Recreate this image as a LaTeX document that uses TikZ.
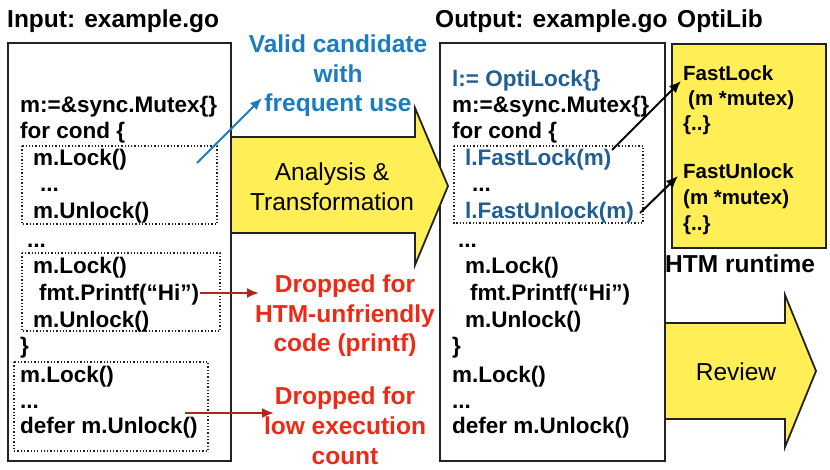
\documentclass[tikz,border=0pt]{standalone}
\usepackage{fontspec}
\setmainfont{Liberation Sans}
\usetikzlibrary{arrows.meta}
\definecolor{hlyellow}{HTML}{FFEE55}
\definecolor{lblblue}{HTML}{1B7CC0}
\definecolor{codeblue}{HTML}{1F5F96}
\definecolor{lblred}{HTML}{EE2A16}
\definecolor{arrred}{HTML}{B0281A}
\definecolor{edge}{HTML}{222222}
\tikzset{
  codebox/.style={draw=edge, line width=1.8pt},
  dotbox/.style={draw=edge, line width=1.3pt, dotted},
  code/.style={anchor=base west, inner sep=0pt, font=\fontsize{22.5}{26}\selectfont\bfseries},
  libtext/.style={anchor=base west, inner sep=0pt, font=\fontsize{20.5}{25}\selectfont\bfseries},
  title/.style={anchor=base west, inner sep=0pt, font=\fontsize{24.5}{28}\selectfont\bfseries},
  redlbl/.style={anchor=base, inner sep=0pt, text=lblred, font=\fontsize{24.5}{28}\selectfont\bfseries},
  bluelbl/.style={anchor=base, inner sep=0pt, text=lblblue, font=\fontsize{24.5}{28}\selectfont\bfseries},
  bigarrow/.style={draw=edge, line width=1.8pt, fill=hlyellow, line join=miter},
  arrtext/.style={anchor=base, inner sep=0pt, font=\fontsize{24.5}{28}\selectfont},
  tipL/.style={-{Latex[length=12pt,width=10pt]}, line width=2pt},
}
\begin{document}
\begin{tikzpicture}[x=1pt,y=-1pt]
\useasboundingbox (0,0) rectangle (830,469);
% boxes
\draw[codebox] (8,43) rectangle (231,461);
\draw[codebox] (440,43) rectangle (665,461);
\draw[dotbox] (22,146) rectangle (217,224);
\draw[dotbox] (22,253) rectangle (220,331);
\draw[dotbox] (14,362) rectangle (208,451);
\draw[dotbox] (454,146) rectangle (643,223);
\draw[codebox, fill=hlyellow] (672,44) rectangle (826,248);
% titles
\node[title] (tin) at (7,27) {Input: example.go};
\node[title] (tout) at (435,27) {Output: example.go};
\node[title] (tlib) at (677,27) {OptiLib};
% input code
\node[code] (i1) at (20,112) {m:=\&sync.Mutex\{\}};
\node[code] (i2) at (20,138.5) {for cond \{};
\node[code] (i3) at (33,165) {m.Lock()};
\node[code] (i4) at (40,191.5) {...};
\node[code] (i5) at (33,218) {m.Unlock()};
\node[code] (i6) at (27,247) {...};
\node[code] (i7) at (33,273) {m.Lock()};
\node[code] (i8) at (39,300) {fmt.Printf(“Hi”)};
\node[code] (i9) at (33,327) {m.Unlock()};
\node[code] (i10) at (20,353) {\}};
\node[code] (i11) at (20,382) {m.Lock()};
\node[code] (i12) at (20,408) {...};
\node[code] (i13) at (20,433) {defer m.Unlock()};
% output code
\node[code, text=codeblue] (o0) at (452,86) {l:= OptiLock\{\}};
\node[code] (o1) at (452,112) {m:=\&sync.Mutex\{\}};
\node[code] (o2) at (452,138.5) {for cond \{};
\node[code, text=codeblue] (o3) at (465,165) {l.FastLock(m)};
\node[code] (o4) at (472,191.5) {...};
\node[code, text=codeblue] (o5) at (465,218) {l.FastUnlock(m)};
\node[code] (o6) at (458,247) {...};
\node[code] (o7) at (465,273) {m.Lock()};
\node[code] (o8) at (470,300) {fmt.Printf(“Hi”)};
\node[code] (o9) at (465,327) {m.Unlock()};
\node[code] (o10) at (452,353) {\}};
\node[code] (o11) at (452,382) {m.Lock()};
\node[code] (o12) at (452,408) {...};
\node[code] (o13) at (452,433) {defer m.Unlock()};
% optilib
\node[libtext] (l1) at (683,80) {FastLock};
\node[libtext] (l2) at (688,105) {(m *mutex)};
\node[libtext] (l3) at (683,130) {\{..\}};
\node[libtext] (l4) at (683,178) {FastUnlock};
\node[libtext] (l5) at (683,204) {(m *mutex)};
\node[libtext] (l6) at (683,230) {\{..\}};
\node[title] (htm) at (665,272) {HTM runtime};
% big arrows
\draw[bigarrow] (231,137) -- (415,137) -- (415,108) -- (448,186) -- (415,265) -- (415,233) -- (231,233) -- cycle;
\node[arrtext] (an1) at (332,180) {Analysis \&};
\node[arrtext] (an2) at (332,210) {Transformation};
\draw[bigarrow] (665,323) -- (785,323) -- (785,295) -- (816,371) -- (785,447) -- (785,419) -- (665,419) -- cycle;
\node[arrtext] (rev) at (736,380) {Review};
% labels
\node[bluelbl] (b1) at (338,52) {Valid candidate};
\node[bluelbl] (b2) at (338,82) {with};
\node[bluelbl] (b3) at (338,111) {frequent use};
\node[redlbl] (r1) at (345,292) {Dropped for};
\node[redlbl] (r2) at (345,322) {HTM-unfriendly};
\node[redlbl] (r3) at (345,351) {code (printf)};
\node[redlbl] (r4) at (345,404) {Dropped for};
\node[redlbl] (r5) at (345,434) {low execution};
\node[redlbl] (r6) at (345,464) {count};
% connector endpoints
\coordinate (bs) at (197,163);
\coordinate (be) at (262,98);
\coordinate (rs1) at (200,293);
\coordinate (re1) at (259,293);
\coordinate (rs2) at (185,413);
\coordinate (re2) at (274,413);
\coordinate (ks1) at (612,150);
\coordinate (ke1) at (681,81);
\coordinate (ks2) at (640,213);
\coordinate (ke2) at (678,176);
\draw[tipL, draw=lblblue] (bs) -- (be);
\draw[tipL, draw=arrred] (rs1) -- (re1);
\draw[tipL, draw=arrred] (rs2) -- (re2);
\draw[tipL, draw=black] (ks1) -- (ke1);
\draw[tipL, draw=black] (ks2) -- (ke2);
\end{tikzpicture}
\end{document}
